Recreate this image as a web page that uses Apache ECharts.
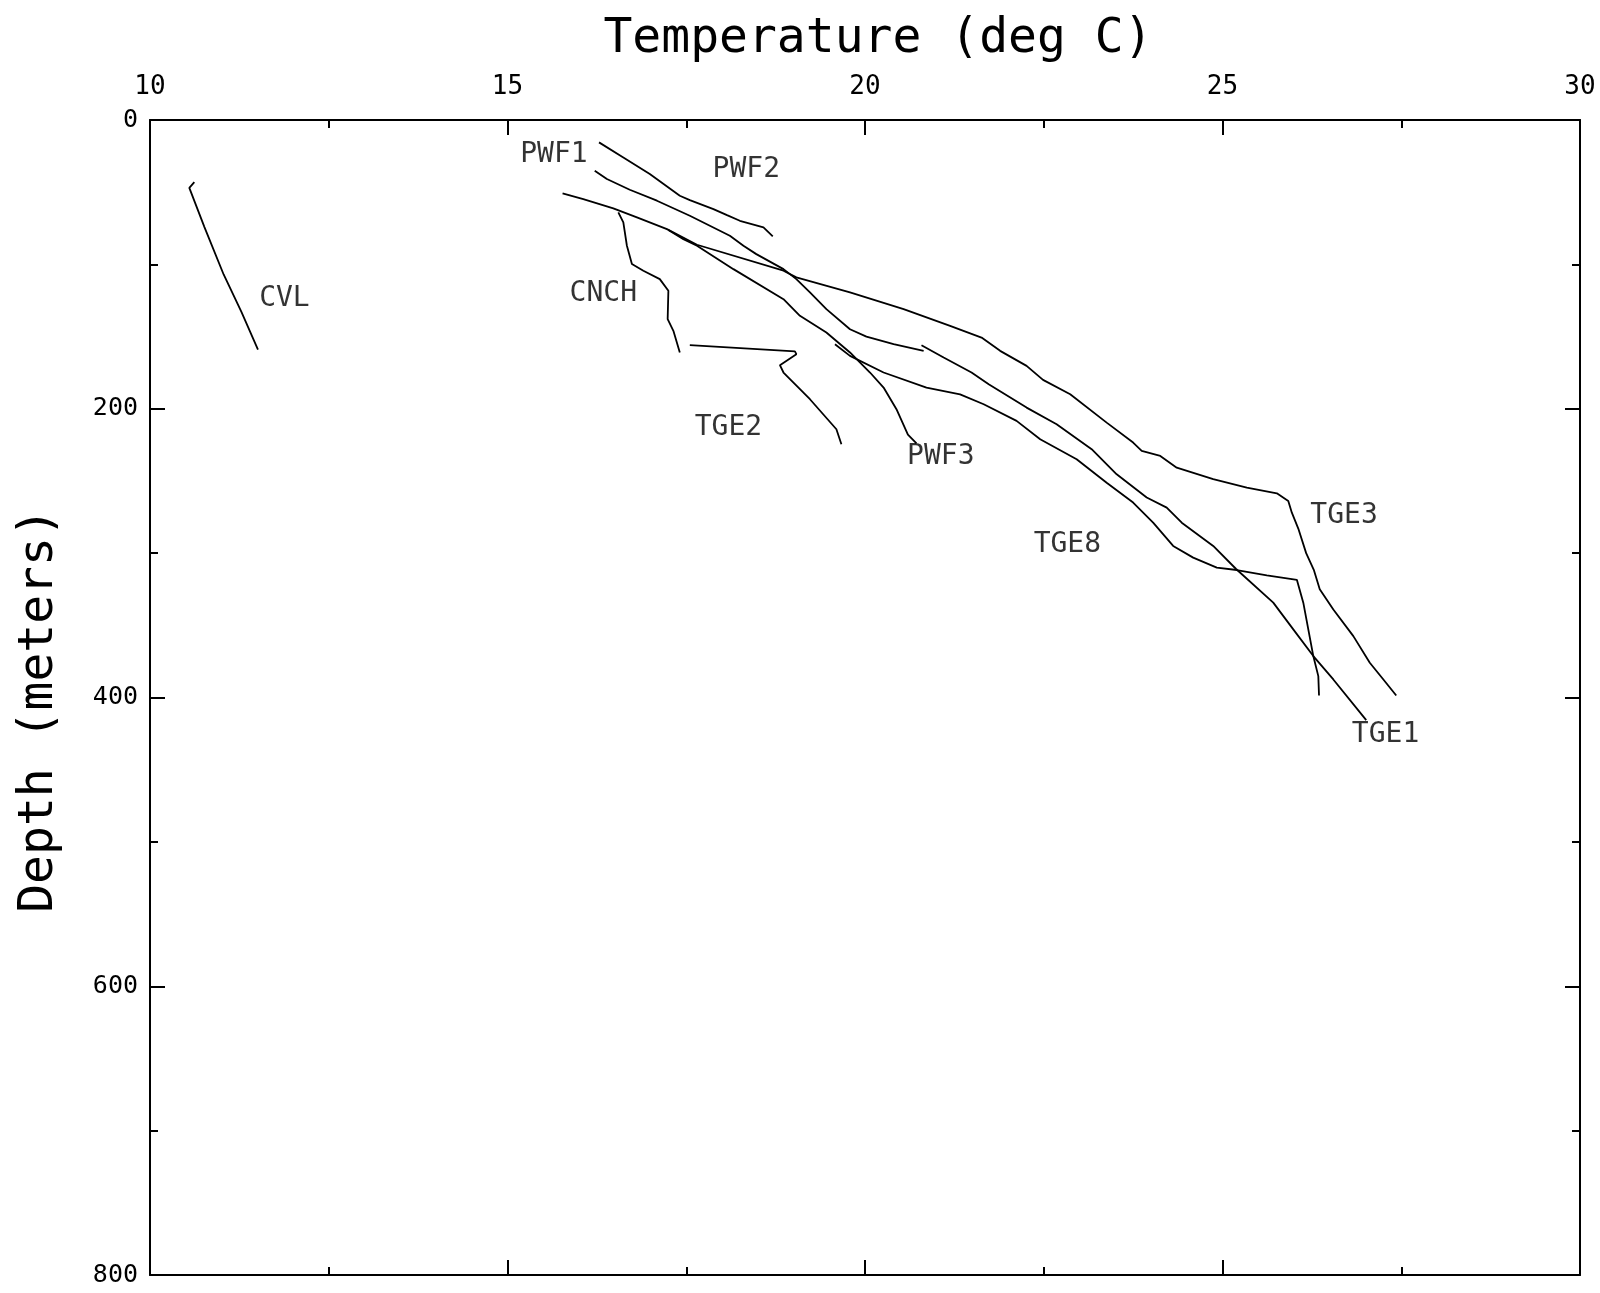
<!DOCTYPE html>
<html>
<head>
<meta charset="utf-8">
<script src="https://cdn.jsdelivr.net/npm/echarts@6/dist/echarts.min.js"></script>
<style>
html,body{margin:0;padding:0;background:#fff;}
#chart{width:1600px;height:1293px;}
</style>
</head>
<body>
<div id="chart"></div>
<script>
// Temperature (deg C) and depth (m) for each profile
var cvlT  = [10.62, 10.55, 10.76, 11.03, 11.28, 11.51];
var cvlD  = [43, 47, 74, 107, 133, 159];

var pwf1T = [16.28, 16.62, 16.99, 17.41, 17.55, 17.88, 18.07, 18.25, 18.58, 18.71];
var pwf1D = [15.5, 25.9, 37.4, 52.5, 55.5, 61.7, 65.9, 69.8, 74.4, 80.6];

var pwf2T = [16.22, 16.39, 16.71, 17.09, 17.55, 18.11, 18.30, 18.48, 18.86, 19.04, 19.23, 19.46, 19.79, 20.02, 20.40, 20.82];
var pwf2D = [35.1, 40.9, 48.3, 55.9, 66.3, 80.2, 87.1, 92.9, 103.3, 110.2, 119.4, 131.0, 144.9, 150.0, 155.3, 159.9];

var pwf3T = [17.25, 17.46, 17.65, 18.16, 18.86, 19.09, 19.46, 19.79, 20.07, 20.26, 20.44, 20.60, 20.72];
var pwf3D = [76.2, 82.5, 87.1, 103.3, 124.1, 135.6, 147.2, 161.0, 174.9, 185.3, 200.3, 218.0, 224.0];

var cnchT = [16.55, 16.62, 16.67, 16.74, 16.90, 17.13, 17.25, 17.24, 17.32, 17.41];
var cnchD = [64.0, 70.9, 87.1, 99.8, 104.4, 110.2, 118.3, 137.9, 146.0, 161.0];

var tge2T = [17.55, 19.02, 19.04, 18.81, 18.86, 19.23, 19.60, 19.67];
var tge2D = [156.0, 160.3, 162.2, 169.8, 174.9, 193.4, 214.2, 224.6];

var tge3T = [15.77, 16.06, 16.48, 16.81, 17.23, 17.65, 18.86, 19.04, 19.79, 20.54, 21.19, 21.63, 21.89, 22.26, 22.49, 22.87, 23.38, 23.75, 23.87, 24.13, 24.36, 24.87, 25.34, 25.76, 25.92, 25.97, 26.06, 26.17, 26.28, 26.36, 26.55, 26.83, 27.06, 27.25, 27.43];
var tge3D = [50.8, 54.8, 61.2, 67.5, 75.6, 86.4, 104.4, 109.0, 119.4, 131.0, 142.6, 150.7, 159.9, 170.3, 180.0, 190.0, 209.6, 223.4, 229.2, 232.7, 240.8, 248.8, 254.6, 258.6, 263.9, 272.0, 283.0, 300.0, 312.0, 325.0, 339.0, 357.5, 375.9, 387.5, 398.6];

var tge1T = [20.79, 21.10, 21.49, 21.73, 22.26, 22.68, 23.17, 23.52, 23.94, 24.22, 24.43, 24.87, 25.19, 25.71, 25.99, 26.27, 26.55, 27.01];
var tge1D = [156.0, 164.5, 174.9, 183.0, 199.2, 210.7, 228.0, 245.4, 261.5, 268.5, 278.9, 295.0, 311.0, 334.3, 352.8, 371.3, 387.5, 415.7];

var tge8T = [19.58, 19.79, 20.26, 20.86, 21.33, 21.66, 22.12, 22.45, 22.96, 23.38, 23.75, 24.03, 24.31, 24.59, 24.92, 25.20, 25.62, 26.04, 26.13, 26.20, 26.27, 26.34, 26.35];
var tge8D = [155.3, 163.4, 174.9, 185.3, 190.0, 196.9, 208.4, 221.1, 235.0, 251.2, 265.0, 278.9, 295.0, 303.1, 310.0, 311.7, 315.4, 318.5, 334.3, 352.8, 371.3, 385.2, 398.6];

// Profile label names and their anchor (temperature, depth)
var labelNames = ['PWF1', 'PWF2', 'CVL', 'CNCH', 'TGE2', 'PWF3', 'TGE8', 'TGE3', 'TGE1'];
var labelT     = [15.65, 18.34, 11.88, 16.34, 18.09, 21.06, 22.83, 26.70, 27.28];
var labelD     = [24.3, 34.3, 124.0, 120.6, 213.0, 233.0, 294.0, 274.0, 426.0];

// Axis ticks
var xMin = 10, xMax = 30, xStep = 5;
var yMin = 0, yMax = 800, yStep = 200;

var MONO = '"DejaVu Sans Mono", monospace';

function zip(t, d) { return t.map(function (v, i) { return [v, d[i]]; }); }

var profiles = [
  ['CVL', cvlT, cvlD], ['PWF1', pwf1T, pwf1D], ['PWF2', pwf2T, pwf2D],
  ['PWF3', pwf3T, pwf3D], ['CNCH', cnchT, cnchD], ['TGE2', tge2T, tge2D],
  ['TGE3', tge3T, tge3D], ['TGE1', tge1T, tge1D], ['TGE8', tge8T, tge8D]
];

var series = profiles.map(function (p) {
  return {
    name: p[0], type: 'line', xAxisIndex: 0, yAxisIndex: 0,
    data: zip(p[1], p[2]), showSymbol: false, symbol: 'none',
    lineStyle: { color: '#000', width: 1.8 }, silent: true
  };
});

series.push({
  type: 'scatter', xAxisIndex: 0, yAxisIndex: 0, symbolSize: 0, silent: true,
  data: labelNames.map(function (n, i) { return { name: n, value: [labelT[i], labelD[i]] }; }),
  label: {
    show: true, position: 'inside', formatter: '{b}',
    fontFamily: MONO, fontSize: 28, color: '#000'
  }
});

function xAx(pos, showLabel) {
  return {
    type: 'value', position: pos, min: xMin, max: xMax, interval: xStep,
    name: showLabel ? 'Temperature (deg C)' : '', nameLocation: 'middle', nameGap: 56,
    nameTextStyle: { fontFamily: MONO, fontSize: 48, fontWeight: 200, color: '#000',
                     padding: [0, 0, 0, 26] },
    axisLine: { show: true, onZero: false, lineStyle: { color: '#000', width: 2 } },
    axisTick: { show: true, inside: true, length: 15, lineStyle: { color: '#000', width: 2 } },
    minorTick: { show: true, splitNumber: 2, length: 8, lineStyle: { color: '#000', width: 2 } },
    axisLabel: { show: showLabel, margin: 20, fontFamily: MONO, fontSize: 26, color: '#000' },
    splitLine: { show: false }, minorSplitLine: { show: false }
  };
}
function yAx(pos, showLabel) {
  return {
    type: 'value', position: pos, inverse: true, min: yMin, max: yMax, interval: yStep,
    name: showLabel ? 'Depth (meters)' : '', nameLocation: 'middle', nameGap: 86,
    nameTextStyle: { fontFamily: MONO, fontSize: 48, fontWeight: 200, color: '#000',
                     padding: [0, 26, 0, 0] },
    axisLine: { show: true, onZero: false, lineStyle: { color: '#000', width: 2 } },
    axisTick: { show: true, inside: true, length: 15, lineStyle: { color: '#000', width: 2 } },
    minorTick: { show: true, splitNumber: 2, length: 8, lineStyle: { color: '#000', width: 2 } },
    axisLabel: { show: showLabel, margin: 12, fontFamily: MONO, fontSize: 25, color: '#000' },
    splitLine: { show: false }, minorSplitLine: { show: false }
  };
}

var chart = echarts.init(document.getElementById('chart'), null, { renderer: 'canvas' });
chart.setOption({
  animation: false,
  backgroundColor: '#fff',
  grid: { left: 150, right: 20, top: 120, bottom: 18, containLabel: false, outerBoundsMode: 'none' },
  xAxis: [xAx('top', true), xAx('bottom', false)],
  yAxis: [yAx('left', true), yAx('right', false)],
  series: series
});
</script>
</body>
</html>
